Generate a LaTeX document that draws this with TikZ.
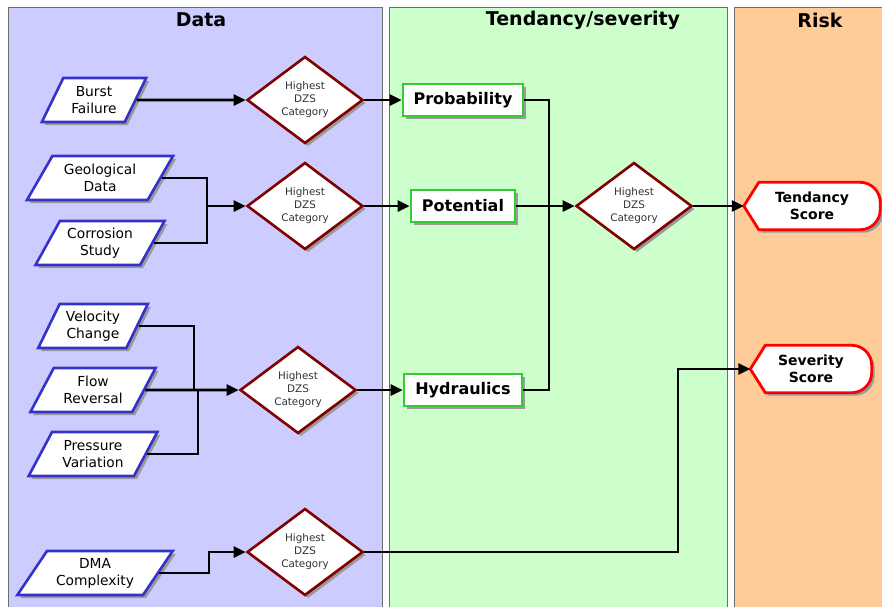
\documentclass[tikz,border=0pt]{standalone}
\usepackage{fontspec}
\setmainfont{DejaVu Sans}
\usetikzlibrary{arrows.meta,shapes.geometric,shadows}
\definecolor{ink}{HTML}{000000}
\definecolor{datafill}{HTML}{CCCCFF}
\definecolor{tendfill}{HTML}{CCFFCC}
\definecolor{riskfill}{HTML}{FFCC99}
\definecolor{lanegray}{HTML}{6E6E6E}
\definecolor{inblue}{HTML}{3333CC}
\definecolor{dzsred}{HTML}{800000}
\definecolor{boxgreen}{HTML}{33CC33}
\definecolor{scorered}{HTML}{FF0000}

% outline of a score shape round a named node
\newcommand{\scoreshape}[1]{%
  \draw[scoreline] (#1.west) -- ([xshift=15pt]#1.north west)
    -- ([xshift=-20pt]#1.north east) arc[start angle=90,end angle=0,radius=20pt]
    -- ([yshift=20pt]#1.south east) arc[start angle=0,end angle=-90,radius=20pt]
    -- ([xshift=15pt]#1.south west) -- cycle;}

\begin{document}
\begin{tikzpicture}[
  x=1pt,y=-1pt,
  lane/.style={draw=lanegray,line width=1pt},
  head/.style={font=\bfseries\fontsize{19}{22}\selectfont,text=ink},
  shade/.style={drop shadow={shadow xshift=3pt,shadow yshift=-3pt,fill=black!40,opacity=1}},
  input/.style={trapezium,trapezium left angle=64,trapezium right angle=116,
                draw=inblue,fill=white,line width=2.6pt,shade,align=center,
                minimum height=44pt,inner xsep=1pt,
                font=\fontsize{13.8}{17}\selectfont},
  dzs/.style={diamond,draw=dzsred,fill=white,line width=2.6pt,shade,align=center,
              minimum width=116pt,minimum height=87pt,inner sep=0pt,
              font=\fontsize{10.4}{13}\selectfont,text=black!80},
  factor/.style={rectangle,draw=boxgreen,fill=white,line width=2.6pt,shade,
                 minimum height=32pt,inner xsep=6pt,
                 font=\bfseries\fontsize{16}{18}\selectfont},
  score/.style={rectangle,minimum height=47pt,inner sep=0pt,align=center,
                font=\bfseries\fontsize{14}{17}\selectfont},
  scoreline/.style={draw=scorered,fill=white,line width=2.8pt,shade},
  link/.style={line width=2.6pt,draw=ink},
  flow/.style={-{Triangle[length=12pt,width=11pt]},line width=2.6pt,draw=ink}
]
\useasboundingbox (0,0) rectangle (882,606);

% 1. Lanes and headers.
\fill[white] (0,0) rectangle (882,606);
\draw[lane,fill=datafill] (8,7) rectangle (382,620);
\draw[lane,fill=tendfill] (389,7) rectangle (727,620);
\draw[lane,fill=riskfill] (734,7) rectangle (900,620);
\node[head] (hdata) at (201,20) {Data};
\node[head] (htend) at (583,20) {Tendancy/severity};
\node[head] (hrisk) at (820,20) {Risk};

% 2. Data inputs.
\node[input,minimum width=95pt] (burst) at (94,100) {Burst\\Failure};
\node[input,minimum width=135pt,trapezium left angle=60,trapezium right angle=120]
  (geo) at (100,178) {Geological\\Data};
\node[input,minimum width=127pt,trapezium left angle=61,trapezium right angle=119]
  (corr) at (100,243) {Corrosion\\Study};
\node[input,minimum width=107pt] (velo) at (93,326) {Velocity\\Change};
\node[input,minimum width=116pt,trapezium left angle=62,trapezium right angle=118]
  (flowrev) at (93,390) {Flow\\Reversal};
\node[input,minimum width=120pt,trapezium left angle=62,trapezium right angle=118]
  (press) at (93,454) {Pressure\\Variation};
\node[input,minimum width=147pt,trapezium left angle=56,trapezium right angle=124]
  (dma) at (95,573) {DMA\\Complexity};

% 3. Highest DZS category checks.
\node[dzs] (dzsa) at (305,100) {Highest\\DZS\\Category};
\node[dzs] (dzsb) at (305,206) {Highest\\DZS\\Category};
\node[dzs] (dzsc) at (298,390) {Highest\\DZS\\Category};
\node[dzs] (dzsd) at (305,552) {Highest\\DZS\\Category};
\node[dzs] (dzse) at (634,206) {Highest\\DZS\\Category};

% 4. Tendancy factors.
\node[factor,minimum width=120pt] (prob) at (463,100) {Probability};
\node[factor,minimum width=104pt] (pot) at (463,206) {Potential};
\node[factor,minimum width=118pt] (hydr) at (463,390) {Hydraulics};

% 5. Risk scores.
\node[score,minimum width=136pt] (tscore) at (812,206) {};
\scoreshape{tscore}
\node[score,minimum width=136pt] at (tscore) {Tendancy\\Score};
\node[score,minimum width=121pt] (sscore) at (811,369) {};
\scoreshape{sscore}
\node[score,minimum width=121pt] at (sscore) {Severity\\Score};

% 6. Connectors.
\coordinate (jgeo) at (207,206);
\coordinate (jvel) at (194,390);
\coordinate (jpre) at (198,390);
\coordinate (jdma) at (209,552);
\coordinate (jtend) at (549,206);
\coordinate (jsev) at (678,369);

\draw[flow] (burst.east) -- (dzsa.west);
\draw[link] (geo.east) -| (jgeo);
\draw[link] (corr.east) -| (jgeo);
\draw[flow] (jgeo) -- (dzsb.west);
\draw[link] (velo.east) -| (jvel);
\draw[link] (press.east) -| (jpre);
\draw[flow] (flowrev.east) -- (dzsc.west);
\draw[flow] (dma.east) -| (jdma) -- (dzsd.west);

\draw[flow] (dzsa.east) -- (prob.west);
\draw[flow] (dzsb.east) -- (pot.west);
\draw[flow] (dzsc.east) -- (hydr.west);
\draw[link] (prob.east) -| (jtend);
\draw[link] (hydr.east) -| (jtend);
\draw[flow] (pot.east) -- (dzse.west);

\draw[flow] (dzse.east) -- (tscore.west);
\draw[flow] (dzsd.east) -| (jsev) -- (sscore.west);

\end{tikzpicture}
\end{document}
